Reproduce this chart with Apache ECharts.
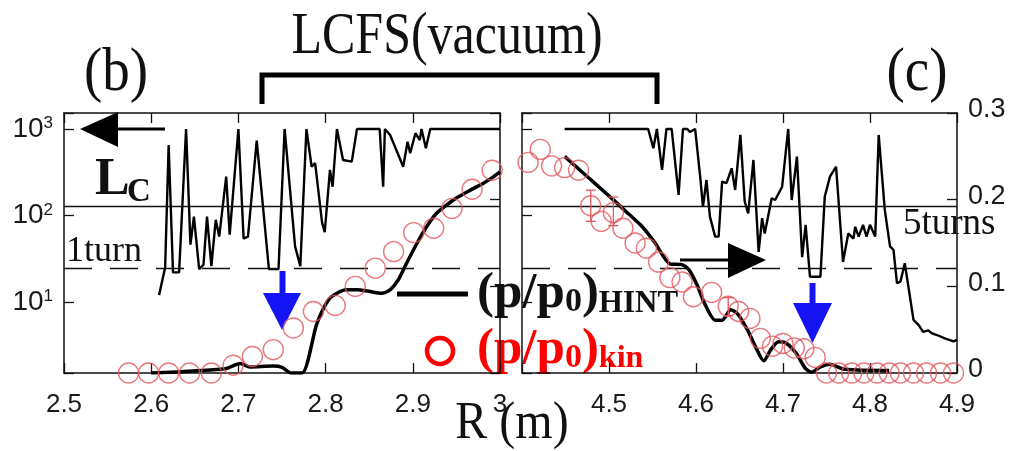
<!DOCTYPE html>
<html>
<head>
<meta charset="utf-8">
<script src="https://cdn.jsdelivr.net/npm/echarts@6/dist/echarts.min.js"></script>
<style>
  html, body { margin: 0; padding: 0; background: #fff; }
  #chart { width: 1012px; height: 451px; }
</style>
</head>
<body>
<div id="chart"></div>
<script>
// Connection length L_C (m), inboard side (b)
const lcLeftR = [2.609, 2.616, 2.620, 2.625, 2.632, 2.640, 2.645, 2.649, 2.655, 2.660,
  2.664, 2.669, 2.674, 2.678, 2.686, 2.690, 2.700, 2.706, 2.711, 2.721,
  2.735, 2.746, 2.753, 2.765, 2.771, 2.778, 2.784, 2.788, 2.796, 2.799,
  2.805, 2.808, 2.813, 2.820, 2.830, 2.836, 2.862, 2.866, 2.868, 2.874,
  2.889, 2.894, 2.897, 2.903, 2.908, 2.910, 2.915, 2.920, 3.0];
const lcLeftVal = [12, 25, 650, 22, 22, 1000, 46, 97, 24, 27,
  97, 26, 89, 57, 281, 60, 1000, 54, 57, 733,
  24, 24, 1000, 44, 26, 1000, 366, 404, 82, 64,
  336, 215, 1000, 438, 419, 1000, 1000, 215, 1000, 853,
  366, 713, 524, 892, 746, 1000, 598, 1000, 1000];

// Connection length L_C (m), outboard side (c)
const lcRightR = [4.449, 4.534, 4.545, 4.551, 4.555, 4.561, 4.566, 4.572, 4.580, 4.585,
  4.590, 4.593, 4.599, 4.605, 4.608, 4.612, 4.616, 4.622, 4.626, 4.630,
  4.635, 4.641, 4.645, 4.651, 4.656, 4.660, 4.666, 4.672, 4.676, 4.679,
  4.687, 4.691, 4.699, 4.706, 4.710, 4.716, 4.722, 4.726, 4.731, 4.743,
  4.748, 4.754, 4.761, 4.769, 4.775, 4.781, 4.783, 4.787, 4.792, 4.796,
  4.800, 4.806, 4.810, 4.817, 4.823, 4.827, 4.831, 4.835, 4.840, 4.850,
  4.856, 4.861, 4.867, 4.871, 4.877, 4.886, 4.896, 4.900];
const lcRightVal = [1000, 1000, 1000, 598, 1000, 336, 1000, 1000, 173, 1000,
  1000, 923, 1000, 269, 126, 257, 97, 57, 57, 246,
  236, 351, 197, 853, 145, 106, 438, 38, 93, 62,
  158, 151, 215, 1000, 151, 479, 33, 78, 19.6, 19.6,
  165, 281, 366, 29, 62, 54, 74, 57, 78, 57,
  78, 57, 853, 116, 44, 40, 16.5, 17.2, 28, 6.2,
  5.4, 4.5, 4.7, 4.35, 4.15, 3.8, 3.5, 3.65];

// Reference lengths: 1 toroidal turn and 5 turns
const oneTurn = 24.7;
const fiveTurns = 127;

// Pressure profile from HINT
const hintLeftR = [2.60, 2.685, 2.702, 2.713, 2.740, 2.750, 2.757, 2.760, 2.773, 2.790,
  2.803, 2.813, 2.824, 2.836, 2.851, 2.864, 2.874, 2.883, 2.893, 2.905,
  2.916, 2.927, 2.939, 2.950, 2.966, 2.981, 2.992, 3.0];
const hintLeftP = [0, 0.005, 0.011, 0.007, 0.008, 0.0066, 0.0015, 0, 0, 0.057,
  0.084, 0.092, 0.096, 0.096, 0.094, 0.092, 0.096, 0.107, 0.127, 0.150,
  0.169, 0.184, 0.194, 0.202, 0.211, 0.219, 0.226, 0.232];
const hintRightR = [4.449, 4.469, 4.488, 4.507, 4.522, 4.538, 4.553, 4.570, 4.584, 4.592,
  4.601, 4.610, 4.622, 4.630, 4.640, 4.648, 4.659, 4.670, 4.678, 4.686,
  4.695, 4.703, 4.715, 4.726, 4.733, 4.743, 4.754, 4.768, 4.786, 4.822];
const hintRightP = [0.250, 0.232, 0.215, 0.198, 0.184, 0.169, 0.150, 0.126, 0.125, 0.119,
  0.102, 0.080, 0.061, 0.061, 0.073, 0.068, 0.050, 0.027, 0.014, 0.027,
  0.036, 0.035, 0.023, 0.005, 0.001, 0.007, 0.010, 0.005, 0.0035, 0.003];

// Pressure profile from kinetic measurements
const kinLeftR = [2.574, 2.597, 2.620, 2.644, 2.669, 2.694, 2.716, 2.740, 2.763, 2.786,
  2.811, 2.834, 2.857, 2.878, 2.901, 2.924, 2.945, 2.968, 2.991];
const kinLeftP = [0, 0, 0, 0, 0, 0.009, 0.019, 0.027, 0.052, 0.071,
  0.078, 0.100, 0.121, 0.140, 0.162, 0.167, 0.190, 0.212, 0.234];
const kinRightR = [4.407, 4.421, 4.434, 4.449, 4.465, 4.479, 4.491, 4.505, 4.516, 4.530,
  4.543, 4.557, 4.570, 4.584, 4.597, 4.618, 4.637, 4.649, 4.662, 4.674,
  4.688, 4.700, 4.713, 4.724, 4.737, 4.750, 4.764, 4.779, 4.793, 4.808,
  4.822, 4.835, 4.850, 4.865, 4.881, 4.896];
const kinRightP = [0.243, 0.258, 0.239, 0.237, 0.234, 0.193, 0.175, 0.185, 0.167, 0.150,
  0.144, 0.128, 0.110, 0.105, 0.088, 0.093, 0.077, 0.071, 0.063, 0.040,
  0.031, 0.034, 0.029, 0.028, 0.018, 0, 0, 0, 0, 0,
  0, 0, 0, 0, 0, 0];
// Error bars on a few kinetic points: [R, low, high]
const kinErrR = [4.479, 4.505, 4.637];
const kinErrLow = [0.175, 0.170, 0.066];
const kinErrHigh = [0.211, 0.203, 0.087];

const zip = (a, b) => a.map((v, i) => [v, b[i]]);

const serif = '"Liberation Serif", "Times New Roman", serif';
const sans = '"Liberation Sans", Arial, sans-serif';
const axisColor = '#111';
const kinColor = '#e2585c';

const chart = echarts.init(document.getElementById('chart'), null, { renderer: 'canvas' });

function xAxisPair(grid, min, max, showLabel) {
  const common = {
    gridIndex: grid, type: 'value', min: min, max: max, interval: 0.1,
    axisLine: { lineStyle: { color: axisColor, width: 1.5 } },
    axisTick: { inside: true, length: 10, lineStyle: { color: axisColor, width: 1.3 } },
    splitLine: { show: false }
  };
  return [
    Object.assign({}, common, {
      position: 'bottom',
      axisLabel: {
        show: true, margin: 19, fontFamily: sans, fontSize: 26, color: '#1a1a1a',
        formatter: v => {
          const r = Math.round(v * 10) / 10;
          if (!showLabel(r)) return '';
          return Number.isInteger(r) ? String(r) : r.toFixed(1);
        }
      }
    }),
    Object.assign({}, common, { position: 'top', axisLabel: { show: false } })
  ];
}

function logLabel(v) {
  const e = Math.log10(v);
  if (Math.abs(e - Math.round(e)) > 1e-6) return '';
  return '{b|10}{s|' + Math.round(e) + '}';
}

function yAxes(grid, logLabels, linLabels) {
  return [
    {
      gridIndex: grid, type: 'log', logBase: 10, min: 1.51, max: 1530, position: 'left',
      axisLine: { lineStyle: { color: axisColor, width: 1.5 } },
      axisTick: { inside: true, length: 10, lineStyle: { color: axisColor, width: 1.3 } },
      minorTick: { show: false },
      splitLine: { show: false },
      axisLabel: {
        show: logLabels, margin: 11, color: '#1a1a1a', formatter: logLabel,
        rich: {
          b: { fontFamily: sans, fontSize: 28, lineHeight: 28, verticalAlign: 'bottom' },
          s: { fontFamily: sans, fontSize: 17, lineHeight: 14, verticalAlign: 'top' }
        }
      }
    },
    {
      gridIndex: grid, type: 'value', min: 0, max: 0.3, interval: 0.1, position: 'right',
      axisLine: { lineStyle: { color: axisColor, width: 1.5 } },
      axisTick: { inside: true, length: 10, lineStyle: { color: axisColor, width: 1.3 } },
      splitLine: { show: false },
      axisLabel: {
        show: linLabels, margin: 11, fontFamily: sans, fontSize: 27, color: '#1a1a1a',
        verticalAlign: 'bottom', lineHeight: 6,
        formatter: v => {
          const r = Math.round(v * 10) / 10;
          return r === 0 ? '0' : r.toFixed(1);
        }
      }
    }
  ];
}

const refLines = {
  silent: true, symbol: 'none', label: { show: false },
  data: [
    { yAxis: fiveTurns, lineStyle: { type: 'solid', color: '#111', width: 1.3 } },
    { yAxis: oneTurn, lineStyle: { type: [28, 18], color: '#111', width: 1.3 } }
  ]
};

const option = {
  backgroundColor: '#fff',
  animation: false,
  grid: [
    { left: 64, top: 113, width: 436, height: 260 },
    { left: 522, top: 113, width: 435, height: 260 }
  ],
  xAxis: [].concat(
    xAxisPair(0, 2.5, 3.0, r => true),
    xAxisPair(1, 4.4, 4.9, r => r > 4.45)
  ),
  yAxis: [].concat(
    yAxes(0, true, false),
    yAxes(1, false, true)
  ),
  series: [
    {
      name: 'Lc (b)', type: 'line', xAxisIndex: 0, yAxisIndex: 0,
      data: zip(lcLeftR, lcLeftVal), symbol: 'none',
      lineStyle: { color: '#000', width: 2.4 }, markLine: refLines, z: 3
    },
    {
      name: 'Lc (c)', type: 'line', xAxisIndex: 2, yAxisIndex: 2,
      data: zip(lcRightR, lcRightVal), symbol: 'none',
      lineStyle: { color: '#000', width: 2.4 }, markLine: refLines, z: 3
    },
    {
      name: 'HINT (b)', type: 'line', xAxisIndex: 0, yAxisIndex: 1,
      data: zip(hintLeftR, hintLeftP), symbol: 'none', smooth: 0.25,
      lineStyle: { color: '#000', width: 3.5 }, z: 4
    },
    {
      name: 'HINT (c)', type: 'line', xAxisIndex: 2, yAxisIndex: 3,
      data: zip(hintRightR, hintRightP), symbol: 'none', smooth: 0.25,
      lineStyle: { color: '#000', width: 3.5 }, z: 4
    },
    {
      name: 'kin (b)', type: 'scatter', xAxisIndex: 0, yAxisIndex: 1,
      data: zip(kinLeftR, kinLeftP), symbol: 'circle', symbolSize: 20, clip: false,
      itemStyle: { color: 'rgba(255,255,255,0)', borderColor: kinColor, borderWidth: 1.4 }, z: 5
    },
    {
      name: 'kin (c)', type: 'scatter', xAxisIndex: 2, yAxisIndex: 3,
      data: zip(kinRightR, kinRightP), symbol: 'circle', symbolSize: 20, clip: false,
      itemStyle: { color: 'rgba(255,255,255,0)', borderColor: kinColor, borderWidth: 1.4 }, z: 5
    },
    {
      name: 'kin error', type: 'custom', xAxisIndex: 2, yAxisIndex: 3,
      data: kinErrR.map((r, i) => [r, kinErrLow[i], kinErrHigh[i]]),
      renderItem: (params, api) => {
        const lo = api.coord([api.value(0), api.value(1)]);
        const hi = api.coord([api.value(0), api.value(2)]);
        const style = { stroke: kinColor, lineWidth: 1.3 };
        return {
          type: 'group', children: [
            { type: 'line', shape: { x1: lo[0], y1: lo[1], x2: hi[0], y2: hi[1] }, style },
            { type: 'line', shape: { x1: lo[0] - 5, y1: lo[1], x2: lo[0] + 5, y2: lo[1] }, style },
            { type: 'line', shape: { x1: hi[0] - 5, y1: hi[1], x2: hi[0] + 5, y2: hi[1] }, style }
          ]
        };
      },
      z: 5
    }
  ],
  graphic: [
    // LCFS bracket and title
    { type: 'text', x: 447, y: 38, scaleY: 1.18,
      style: { text: 'LCFS(vacuum)', font: '50px ' + serif, fill: '#111', align: 'center', verticalAlign: 'middle' } },
    { type: 'polyline', shape: { points: [[262, 104], [262, 75], [657, 75], [657, 104]] },
      style: { stroke: '#000', lineWidth: 5, fill: null } },
    // panel labels
    { type: 'text', x: 116, y: 74, scaleY: 1.1,
      style: { text: '(b)', font: '55px ' + serif, fill: '#111', align: 'center', verticalAlign: 'middle' } },
    { type: 'text', x: 917, y: 74, scaleY: 1.1,
      style: { text: '(c)', font: '55px ' + serif, fill: '#111', align: 'center', verticalAlign: 'middle' } },
    // L_C label
    { type: 'text', x: 95, y: 181,
      style: { text: 'L', font: 'bold 52px ' + serif, fill: '#111', align: 'left', verticalAlign: 'middle' } },
    { type: 'text', x: 127, y: 192,
      style: { text: 'C', font: 'bold 33px ' + serif, fill: '#111', align: 'left', verticalAlign: 'middle' } },
    // turn labels
    { type: 'text', x: 66, y: 252,
      style: { text: '1turn', font: '36px ' + serif, fill: '#111', align: 'left', verticalAlign: 'middle' } },
    { type: 'text', x: 903, y: 224,
      style: { text: '5turns', font: '37px ' + serif, fill: '#111', align: 'left', verticalAlign: 'middle' } },
    // arrow pointing to the L_C axis
    { type: 'line', shape: { x1: 116, y1: 129, x2: 165, y2: 129 }, style: { stroke: '#000', lineWidth: 3 } },
    { type: 'polygon', shape: { points: [[80, 129], [118, 112], [118, 147]] }, style: { fill: '#000' } },
    // arrow pointing to the pressure axis
    { type: 'line', shape: { x1: 680, y1: 260, x2: 730, y2: 260 }, style: { stroke: '#000', lineWidth: 3 } },
    { type: 'polygon', shape: { points: [[766, 260], [728, 243], [728, 278]] }, style: { fill: '#000' } },
    // blue markers
    { type: 'rect', shape: { x: 279.5, y: 271, width: 6, height: 24 }, style: { fill: '#1414f5' } },
    { type: 'polygon', shape: { points: [[263, 293], [301, 293], [282, 330]] }, style: { fill: '#1414f5' } },
    { type: 'rect', shape: { x: 809.5, y: 283, width: 6, height: 22 }, style: { fill: '#1414f5' } },
    { type: 'polygon', shape: { points: [[793, 303], [832, 303], [812.5, 343]] }, style: { fill: '#1414f5' } },
    // legend
    { type: 'line', shape: { x1: 397, y1: 294, x2: 468, y2: 294 }, style: { stroke: '#000', lineWidth: 5 } },
    { type: 'text', x: 477, y: 294,
      style: {
        text: '{m|(p/p}{z|0}{m|)}{s|HINT}', fill: '#111', align: 'left', verticalAlign: 'middle',
        rich: {
          m: { font: 'bold 51px ' + serif, lineHeight: 50, fill: '#111' },
          z: { font: 'bold 34px ' + serif, lineHeight: 26, verticalAlign: 'bottom', fill: '#111' },
          s: { font: 'bold 31px ' + serif, lineHeight: 18, verticalAlign: 'bottom', fill: '#111' }
        }
      } },
    { type: 'circle', shape: { cx: 440, cy: 351, r: 13 }, style: { stroke: '#ff0000', lineWidth: 4.5, fill: null } },
    { type: 'text', x: 477, y: 350,
      style: {
        text: '{m|(p/p}{z|0}{m|)}{s|kin}', fill: '#ff0000', align: 'left', verticalAlign: 'middle',
        rich: {
          m: { font: 'bold 51px ' + serif, lineHeight: 50, fill: '#ff0000' },
          z: { font: 'bold 34px ' + serif, lineHeight: 26, verticalAlign: 'bottom', fill: '#ff0000' },
          s: { font: 'bold 32px ' + serif, lineHeight: 18, verticalAlign: 'bottom', fill: '#ff0000' }
        }
      } },
    // axis title
    { type: 'text', x: 512, y: 424, scaleY: 1.1,
      style: { text: 'R (m)', font: '48px ' + serif, fill: '#111', align: 'center', verticalAlign: 'middle' } }
  ]
};

chart.setOption(option);
</script>
</body>
</html>
